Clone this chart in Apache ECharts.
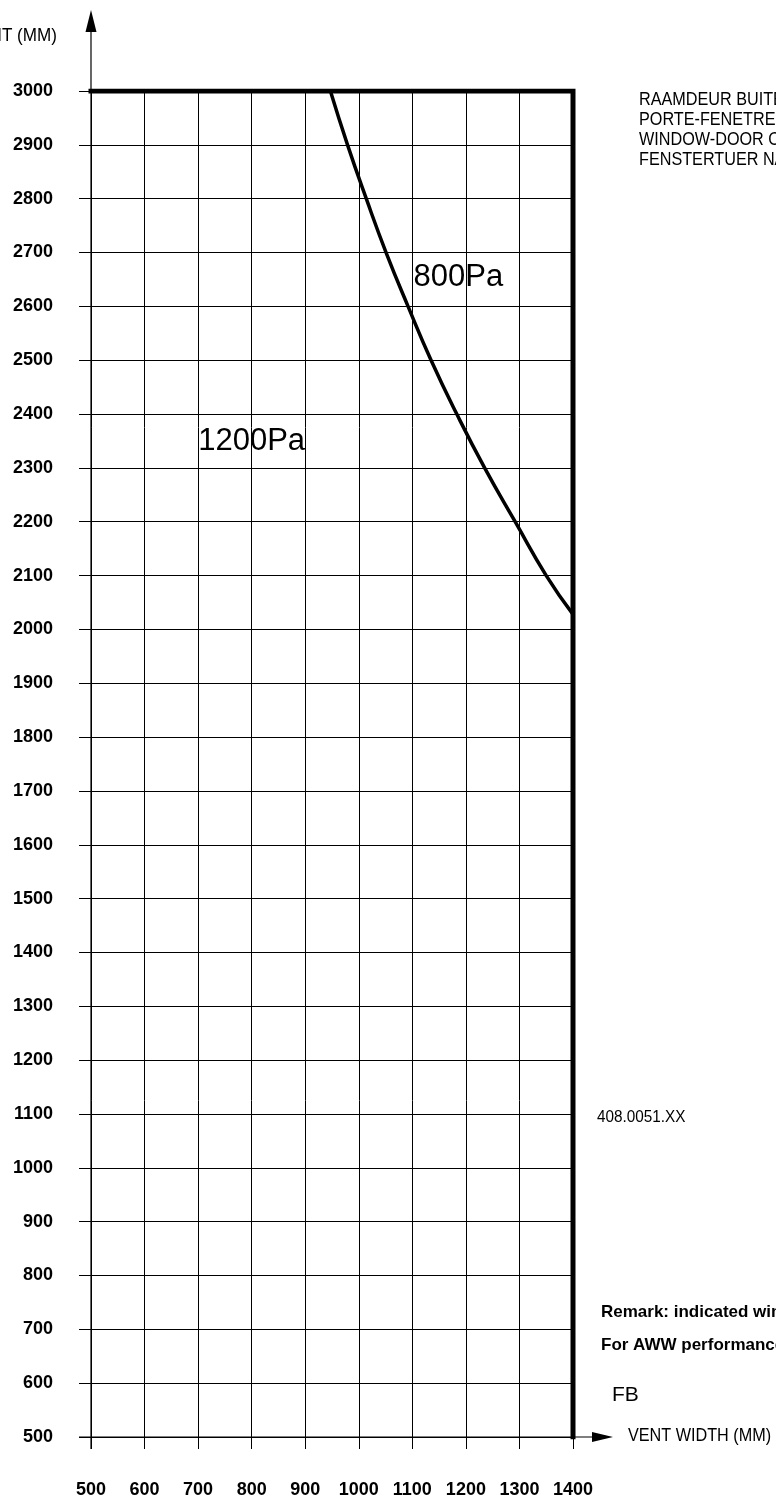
<!DOCTYPE html>
<html>
<head>
<meta charset="utf-8">
<script src="https://cdn.jsdelivr.net/npm/echarts@6/dist/echarts.min.js"></script>
<style>
  html, body { margin: 0; padding: 0; background: #fff; }
  #chart { width: 776px; height: 1499px; }
</style>
</head>
<body>
<div id="chart"></div>
<script>
// Vent width / vent height limits for the window-door, by wind pressure.
const xMin = 500, xMax = 1400, xStep = 100;      // vent width (mm)
const yMin = 500, yMax = 3000, yStep = 100;      // vent height (mm)

// Outer limit of the 1200Pa zone: top edge at 3000 mm, right edge at 1400 mm
const limitWidths  = [500, 1400, 1400];
const limitHeights = [3000, 3000, 500];

// 800Pa boundary curve
const curveWidths  = [947, 979, 1014, 1051, 1092, 1135, 1183, 1235, 1292, 1350, 1400];
const curveHeights = [3000, 2900, 2800, 2700, 2600, 2500, 2400, 2300, 2200, 2100, 2028];

// Zone labels
const zoneNames   = ['1200Pa', '800Pa'];
const zoneWidths  = [800, 1186];
const zoneHeights = [2350, 2653];

const FONT = "'Liberation Sans', Arial, sans-serif";

const chart = echarts.init(document.getElementById('chart'), null, { renderer: 'canvas' });

const pairs = (xs, ys) => xs.map((x, i) => [x, ys[i]]);

chart.setOption({
  animation: false,
  backgroundColor: '#fff',
  grid: { left: 91, top: 91, width: 482, height: 1347, containLabel: false },
  xAxis: {
    type: 'value', min: xMin, max: xMax, interval: xStep,
    axisLine: { show: false },
    axisTick: { show: true, length: 12, lineStyle: { color: '#000', width: 1 } },
    splitLine: { show: true, lineStyle: { color: '#000', width: 1 } },
    axisLabel: { margin: 44, color: '#000', fontSize: 18, fontWeight: 'bold', fontFamily: FONT, formatter: v => String(v) }
  },
  yAxis: {
    type: 'value', min: yMin, max: yMax, interval: yStep,
    axisLine: { show: false },
    axisTick: { show: true, length: 12, lineStyle: { color: '#000', width: 1 } },
    splitLine: { show: true, lineStyle: { color: '#000', width: 1 } },
    axisLabel: { margin: 38, color: '#000', fontSize: 18, fontWeight: 'bold', fontFamily: FONT, formatter: v => String(v) }
  },
  series: [
    {
      type: 'line', data: pairs(limitWidths, limitHeights),
      symbol: 'none', silent: true, z: 5,
      lineStyle: { color: '#000', width: 5, cap: 'square', join: 'miter' }
    },
    {
      type: 'line', data: pairs(curveWidths, curveHeights),
      symbol: 'none', smooth: true, silent: true, z: 4,
      lineStyle: { color: '#000', width: 3.5 }
    },
    {
      type: 'scatter', data: zoneWidths.map((x, i) => ({ value: [x, zoneHeights[i]], name: zoneNames[i] })),
      symbolSize: 0, silent: true, z: 6,
      itemStyle: { color: '#000', opacity: 1 },
      label: {
        show: true, position: 'inside', formatter: p => p.name,
        color: '#000', opacity: 1, fontSize: 31, fontFamily: FONT,
        textBorderWidth: 0, textBorderColor: 'transparent'
      }
    }
  ]
});

// Axis lines with arrow heads, extended past the plotting area
const pOrigin = chart.convertToPixel({ gridIndex: 0 }, [xMin, yMin]);
const pRight  = chart.convertToPixel({ gridIndex: 0 }, [xMax, yMin]);
const pTop    = chart.convertToPixel({ gridIndex: 0 }, [xMin, yMax]);
const ox = pOrigin[0], oy = pOrigin[1];

function text(str, x, y, opts) {
  return {
    type: 'text', x: x, y: y, scaleX: opts.scaleX || 1, silent: true, z: 10,
    style: {
      text: str, x: 0, y: 0,
      fontSize: opts.size, fontWeight: opts.weight || 'normal', fontFamily: FONT,
      fill: '#000',
      textAlign: opts.align || 'left', align: opts.align || 'left',
      textVerticalAlign: 'middle', verticalAlign: 'middle'
    }
  };
}

const NARROW = 0.9;

chart.setOption({
  graphic: [
    // x axis
    { type: 'line', silent: true, z: 8, shape: { x1: ox - 12, y1: oy, x2: pRight[0] + 22, y2: oy }, style: { stroke: '#000', lineWidth: 1.2 } },
    { type: 'polygon', silent: true, z: 8, shape: { points: [[pRight[0] + 19, oy - 5], [pRight[0] + 40, oy], [pRight[0] + 19, oy + 5]] }, style: { fill: '#000' } },
    // y axis
    { type: 'line', silent: true, z: 8, shape: { x1: ox, y1: oy + 12, x2: ox, y2: pTop[1] - 60 }, style: { stroke: '#000', lineWidth: 1.2 } },
    { type: 'polygon', silent: true, z: 8, shape: { points: [[ox - 5.5, pTop[1] - 59], [ox, pTop[1] - 81], [ox + 5.5, pTop[1] - 59]] }, style: { fill: '#000' } },

    // axis titles
    text('VENT HEIGHT (MM)', 57, 36, { size: 18, align: 'right', scaleX: 0.95 }),
    text('VENT WIDTH (MM)', 628, oy - 1, { size: 18, scaleX: NARROW }),

    // product description
    text('RAAMDEUR BUITENDRAAIEND', 639, 100, { size: 18, scaleX: NARROW }),
    text('PORTE-FENETRE (OUVRANT EXTERIEUR)', 639, 120, { size: 18, scaleX: NARROW }),
    text('WINDOW-DOOR OPENING OUTWARDS', 639, 140, { size: 18, scaleX: NARROW }),
    text('FENSTERTUER NACH AUSSEN OEFFNEND', 639, 160, { size: 18, scaleX: NARROW }),

    // reference and remarks
    text('408.0051.XX', 597, 1117, { size: 17, scaleX: NARROW }),
    text('Remark: indicated wind load values according to EN 12210', 601, 1312, { size: 17, weight: 'bold' }),
    text('For AWW performance see technical documentation', 601, 1345, { size: 17, weight: 'bold' }),
    text('FB', 612, 1395, { size: 21 })
  ]
});
</script>
</body>
</html>
